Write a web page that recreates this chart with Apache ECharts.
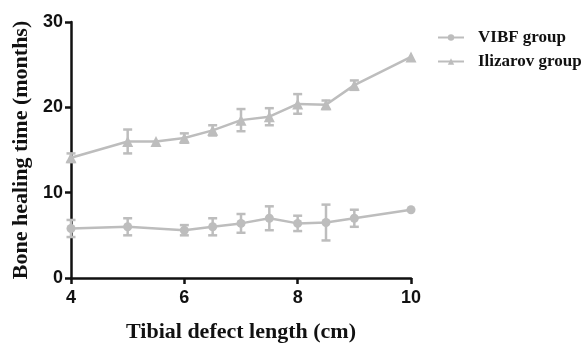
<!DOCTYPE html>
<html>
<head>
<meta charset="utf-8">
<script src="https://cdn.jsdelivr.net/npm/echarts@6/dist/echarts.min.js"></script>
<style>
  html, body { margin: 0; padding: 0; background: #fff; }
  #chart { width: 588px; height: 343px; }
</style>
</head>
<body>
<div id="chart"></div>
<script>
// tibial defect length (cm) and healing time (months), mean and SD
const vibfX = [4, 5, 6, 6.5, 7, 7.5, 8, 8.5, 9, 10]
const vibfMean = [5.8, 6.0, 5.6, 6.0, 6.4, 7.0, 6.4, 6.5, 7.0, 8.0]
const vibfSd = [1.0, 1.0, 0.6, 1.0, 1.1, 1.4, 0.9, 2.1, 1.0, 0]

const ilizX = [4, 5, 5.5, 6, 6.5, 7, 7.5, 8, 8.5, 9, 10]
const ilizMean = [14.1, 16.0, 16.0, 16.4, 17.3, 18.5, 18.9, 20.4, 20.3, 22.6, 25.9]
const ilizSd = [0.5, 1.4, 0, 0.55, 0.6, 1.3, 1.0, 1.15, 0.5, 0.55, 0]

const GRAY = "#bdbdbd"

const chart = echarts.init(document.getElementById("chart"))

function errorBars(xs, means, sds) {
  return {
    type: "custom",
    silent: true,
    z: 1,
    data: xs.map((x, i) => [x, means[i] - sds[i], means[i] + sds[i]]),
    renderItem: (params, api) => {
      const lo = api.coord([api.value(0), api.value(1)])
      const hi = api.coord([api.value(0), api.value(2)])
      if (Math.abs(hi[1] - lo[1]) < 1) return null
      const w = 4.5
      const style = { stroke: GRAY, lineWidth: 2.5 }
      return {
        type: "group",
        children: [
          { type: "line", shape: { x1: lo[0], y1: lo[1], x2: hi[0], y2: hi[1] }, style },
          { type: "line", shape: { x1: lo[0] - w, y1: lo[1], x2: lo[0] + w, y2: lo[1] }, style },
          { type: "line", shape: { x1: hi[0] - w, y1: hi[1], x2: hi[0] + w, y2: hi[1] }, style },
        ],
      }
    },
  }
}

const axisLine = { lineStyle: { color: "#111", width: 2.5 } }
const tickLabel = { color: "#111", fontFamily: "Liberation Sans", fontWeight: "bold", fontSize: 18 }
const titleFont = { color: "#111", fontFamily: "Liberation Serif", fontWeight: "bold", fontSize: 22 }

chart.setOption({
  animation: false,
  grid: { left: 71, right: 177, top: 22, bottom: 65, outerBoundsMode: "none" },
  legend: {
    orient: "vertical",
    left: 432,
    top: 24,
    itemWidth: 26,
    itemHeight: 8,
    itemGap: 7,
    textStyle: {
      color: "#111",
      fontFamily: "Liberation Serif",
      fontWeight: "bold",
      fontSize: 17,
      padding: [0, 0, 0, 9],
    },
    data: ["VIBF group", "Ilizarov group"],
  },
  xAxis: {
    type: "value",
    min: 4,
    max: 10,
    interval: 2,
    name: "Tibial defect length (cm)",
    nameLocation: "middle",
    nameGap: 43,
    nameTextStyle: titleFont,
    axisLine,
    axisTick: { length: 6, lineStyle: { color: "#111", width: 2.5 } },
    axisLabel: { ...tickLabel, margin: 11 },
    splitLine: { show: false },
  },
  yAxis: {
    type: "value",
    min: 0,
    max: 30,
    interval: 10,
    name: "Bone healing time (months)",
    nameLocation: "middle",
    nameGap: 38,
    nameTextStyle: titleFont,
    axisLine: { show: true, ...axisLine },
    axisTick: { show: true, length: 6, lineStyle: { color: "#111", width: 2.5 } },
    axisLabel: { ...tickLabel, margin: 8 },
    splitLine: { show: false },
  },
  series: [
    {
      name: "VIBF group",
      type: "line",
      data: vibfX.map((x, i) => [x, vibfMean[i]]),
      symbol: "circle",
      symbolSize: 9,
      itemStyle: { color: GRAY },
      lineStyle: { color: GRAY, width: 2.5 },
      z: 2,
    },
    {
      name: "Ilizarov group",
      type: "line",
      data: ilizX.map((x, i) => [x, ilizMean[i]]),
      symbol: "triangle",
      symbolSize: 11,
      itemStyle: { color: GRAY },
      lineStyle: { color: GRAY, width: 2.5 },
      z: 2,
    },
    errorBars(vibfX, vibfMean, vibfSd),
    errorBars(ilizX, ilizMean, ilizSd),
  ],
})
</script>
</body>
</html>
